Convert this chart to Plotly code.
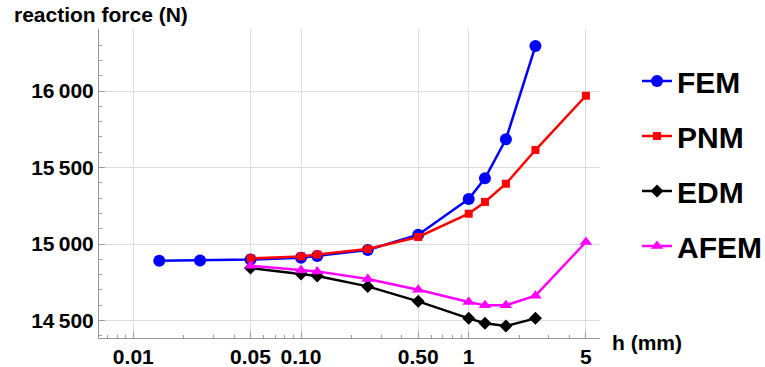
import plotly.graph_objects as go

# Mesh size h (mm) for each method
h_fem = [5 / 350, 0.025, 0.05, 0.1, 0.125, 0.25, 0.5, 1, 1.25, 5 / 3, 2.5]
h_pnm = [0.05, 0.1, 0.125, 0.25, 0.5, 1, 1.25, 5 / 3, 2.5, 5]
h_edm = [0.05, 0.1, 0.125, 0.25, 0.5, 1, 1.25, 5 / 3, 2.5]
h_afem = [0.05, 0.1, 0.125, 0.25, 0.5, 1, 1.25, 5 / 3, 2.5, 5]

# Reaction force (N)
f_fem = [14890, 14892, 14898, 14910, 14922, 14961, 15061, 15294, 15429, 15684, 16294]
f_pnm = [14906, 14919, 14931, 14967, 15046, 15198, 15275, 15394, 15614, 15969]
f_edm = [14843, 14804, 14791, 14723, 14625, 14514, 14482, 14464, 14514]
f_afem = [14858, 14828, 14821, 14771, 14701, 14621, 14599, 14599, 14662, 15013]

x_tickvals = [0.01, 0.05, 0.1, 0.5, 1, 5]
x_ticktext = ["0.01", "0.05", "0.10", "0.50", "1", "5"]
x_minor = [0.007, 0.008, 0.009, 0.02, 0.03, 0.04, 0.06, 0.07, 0.08, 0.09,
           0.2, 0.3, 0.4, 0.6, 0.7, 0.8, 0.9, 2, 3, 4]
y_tickvals = [14500, 15000, 15500, 16000]
y_ticktext = ["14\u2009500", "15\u2009000", "15\u2009500", "16\u2009000"]

FONT = "Liberation Sans, Arial, sans-serif"

series = [
    ("FEM", h_fem, f_fem, "#0000ff", "circle", 12),
    ("PNM", h_pnm, f_pnm, "#ff0000", "square", 8),
    ("EDM", h_edm, f_edm, "#000000", "diamond", 10),
    ("AFEM", h_afem, f_afem, "#ff00ff", "triangle-up", 11),
]

fig = go.Figure()
for name, xs, ys, color, symbol, size in series:
    fig.add_trace(go.Scatter(
        x=xs, y=ys, name=name, legendgroup=name,
        mode="lines+markers",
        line=dict(color=color, width=2.5),
        marker=dict(color=color, symbol=symbol, size=size),
    ))

axis_common = dict(
    showline=True, linecolor="#9a9a9a", linewidth=1,
    showgrid=True, gridcolor="#dcdcdc", gridwidth=1,
    ticks="inside", ticklen=6, tickcolor="#9a9a9a",
    tickfont=dict(family=FONT, size=21, color="black", weight="bold"),
    zeroline=False, automargin=False,
)

fig.update_xaxes(
    type="log", range=[-2.2045, 0.7829],
    tickvals=x_tickvals, ticktext=x_ticktext,
    minor=dict(tickvals=x_minor, ticks="inside", ticklen=3,
               tickcolor="#9a9a9a", showgrid=False),
    **axis_common,
)
fig.update_yaxes(
    range=[14385.6, 16405.2],
    tickvals=y_tickvals, ticktext=y_ticktext,
    minor=dict(dtick=100, ticks="inside", ticklen=3,
               tickcolor="#9a9a9a", showgrid=False),
    **axis_common,
)

fig.update_layout(
    width=765, height=367,
    margin=dict(l=99, r=165, t=29, b=29, autoexpand=False),
    paper_bgcolor="white", plot_bgcolor="white",
    font=dict(family=FONT, color="black"),
    showlegend=True,
    legend=dict(
        xref="container", yref="container",
        x=637 / 765, y=1 - 55 / 367, xanchor="left", yanchor="top",
        font=dict(family=FONT, size=30, color="black", weight="bold"),
        tracegroupgap=13, bgcolor="rgba(0,0,0,0)", maxheight=1,
    ),
    annotations=[
        dict(text="reaction force (N)", xref="paper", yref="paper",
             x=(12 - 99) / 501, y=(338 - 14) / 309, xanchor="left", yanchor="middle",
             showarrow=False, font=dict(family=FONT, size=21, weight="bold")),
        dict(text="h (mm)", xref="paper", yref="paper",
             x=(610 - 99) / 501, y=(338 - 342) / 309, xanchor="left", yanchor="middle",
             showarrow=False, font=dict(family=FONT, size=21, weight="bold")),
    ],
)

fig.write_html("out.html")
